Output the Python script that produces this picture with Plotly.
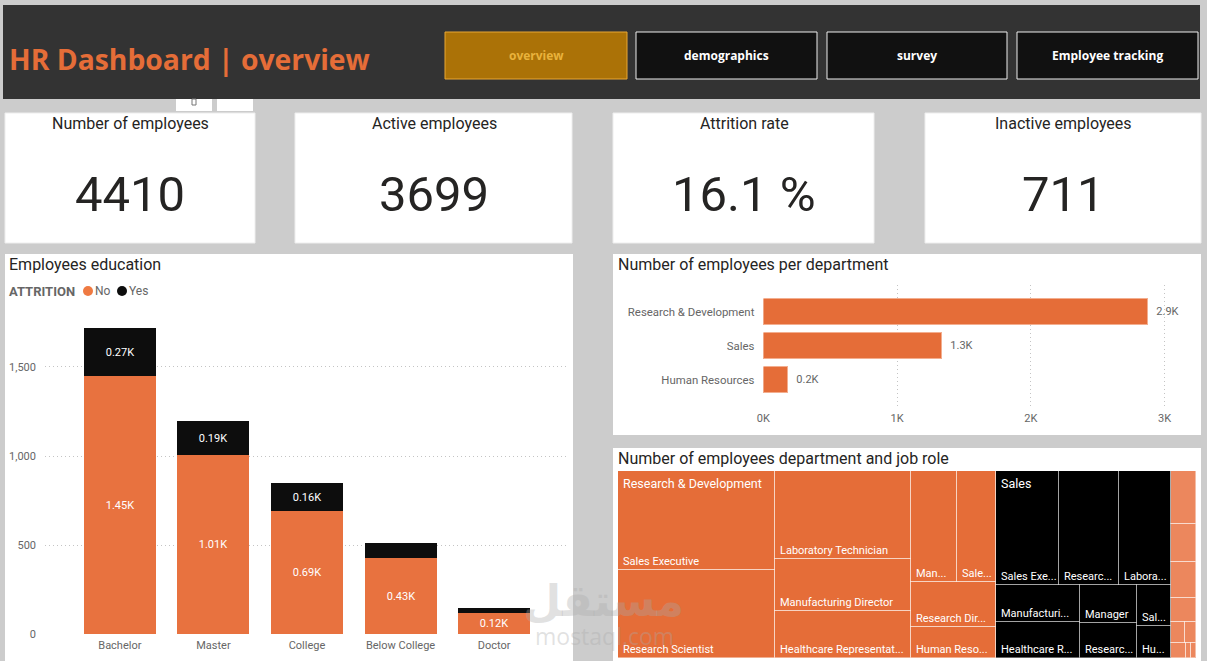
import plotly.graph_objects as go

W, H = 1207, 661
ORANGE = "#E56D38"
ORANGE2 = "#E8723F"
LIGHT = "#EC875D"
BLACK = "#000000"
GREY = "#666666"
DARK = "#252423"
UI_FONT = "Roboto"
HEAD_FONT = "Open Sans"

# --- KPI cards
kpi_titles = ["Number of employees", "Active employees", "Attrition rate", "Inactive employees"]
kpi_values = ["4410", "3699", "16.1 %", "711"]

# --- navigation
nav_labels = ["overview", "demographics", "survey", "Employee tracking"]

# --- education chart
education = ["Bachelor", "Master", "College", "Below College", "Doctor"]
attr_no = [1449, 1008, 690, 426, 120]
attr_yes = [270, 186, 156, 84, 24]
yes_labelled = [True, True, True, False, False]

# --- department chart
departments = ["Research & Development", "Sales", "Human Resources"]
dept_counts = [2883, 1338, 189]

# --- treemap
roles = ["Sales Executive", "Research Scientist", "Laboratory Technician", "Manufacturing Director",
         "Healthcare Representative", "Manager", "Sales Representative", "Research Director", "Human Resources"]

rd_order = [0, 1, 2, 3, 4, 5, 6, 7, 8]
rd_counts = [631, 565, 488, 288, 262, 208, 177, 156, 108]
rd_labels = ["Sales Executive", "Research Scientist", "Laboratory Technician", "Manufacturing Director",
             "Healthcare Representat...", "Man...", "Sale...", "Research Dir...", "Human Reso..."]
rd_tree = [[0, 1], [2, 3, 4], [[5, 6], 7, 8]]

sales_order = [0, 1, 2, 3, 4, 5, 1, 6, 8]
sales_counts = [294, 278, 244, 125, 124, 90, 82, 56, 45]
sales_labels = ["Sales Exe...", "Researc...", "Labora...", "Manufacturi...", "Healthcare R...",
                "Manager", "Researc...", "Sal...", "Hu..."]
sales_tree = [[0, 1, 2], [[3, 4], [5, 6], [7, 8]]]

hr_order = [0, 1, 2, 3, 4, 5, 6, 7, 8]
hr_counts = [54, 38, 36, 25, 12, 9, 9, 3, 3]
hr_labels = [""] * 9
hr_tree = [0, 1, 2, 3, [4, 5], [6, 7, 8]]


def px(x):
    return x / W


def py(y):
    return 1 - y / H


def weight(node, counts):
    if isinstance(node, list):
        return sum(weight(n, counts) for n in node)
    return counts[node]


def slice_cells(node, counts, x0, x1, y0, y1, horizontal, out):
    if not isinstance(node, list):
        out[node] = (x0, x1, y0, y1)
        return
    total = weight(node, counts)
    pos = x0 if horizontal else y0
    for child in node:
        share = weight(child, counts) / total
        if horizontal:
            step = (x1 - x0) * share
            slice_cells(child, counts, pos, pos + step, y0, y1, False, out)
        else:
            step = (y1 - y0) * share
            slice_cells(child, counts, x0, x1, pos, pos + step, True, out)
        pos += step


fig = go.Figure()

# education
fig.add_bar(x=education, y=attr_no, name="No", marker=dict(color=ORANGE2, line=dict(width=0)),
            text=[f"{v/1000:.2f}K" for v in attr_no], textposition="inside", insidetextanchor="middle",
            textangle=0, textfont=dict(color="white", size=11, family=UI_FONT), width=0.77,
            xaxis="x", yaxis="y")
fig.add_bar(x=education, y=attr_yes, name="Yes", marker=dict(color="#0D0D0D", line=dict(width=0)),
            text=[f"{v/1000:.2f}K" if s else "" for v, s in zip(attr_yes, yes_labelled)],
            textposition="inside", insidetextanchor="middle", textangle=0,
            textfont=dict(color="white", size=11, family=UI_FONT), width=0.77, xaxis="x", yaxis="y")

# departments
fig.add_bar(y=departments, x=dept_counts, orientation="h", width=0.77, cliponaxis=False,
            marker=dict(color=ORANGE, line=dict(width=1, color="#F3AE8F")),
            text=[f"\u00a0\u00a0{v/1000:.1f}K" for v in dept_counts], textposition="outside",
            textfont=dict(color=GREY, size=11, family=UI_FONT), xaxis="x2", yaxis="y2")

# treemap
annotations = []
groups = [("Research & Development", rd_counts, rd_labels, rd_order, rd_tree, True, ORANGE, "rgba(255,255,255,0.45)"),
          ("Sales", sales_counts, sales_labels, sales_order, sales_tree, False, BLACK, "rgba(255,255,255,0.4)"),
          ("", hr_counts, hr_labels, hr_order, hr_tree, False, LIGHT, "rgba(255,255,255,0.45)")]
start = 0
for name, counts, labels, order, tree, horiz, colour, edge in groups:
    span = sum(counts)
    cells = {}
    slice_cells(tree, counts, start, start + span, 0, 1, horiz, cells)
    idx = sorted(cells)
    fig.add_bar(x=[(cells[i][0] + cells[i][1]) / 2 for i in idx],
                width=[cells[i][1] - cells[i][0] for i in idx],
                base=[cells[i][2] for i in idx],
                y=[cells[i][3] - cells[i][2] for i in idx],
                customdata=[[roles[order[i]], counts[i]] for i in idx],
                hovertemplate="%{customdata[0]}: %{customdata[1]}<extra></extra>",
                marker=dict(color=colour, line=dict(color=edge, width=1)),
                xaxis="x3", yaxis="y3")
    for i in idx:
        if labels[i]:
            annotations.append(dict(x=cells[i][0], y=cells[i][3], xref="x3", yref="y3", text=labels[i],
                                    xanchor="left", yanchor="bottom", xshift=3, yshift=0, showarrow=False,
                                    font=dict(color="white", size=11, family=UI_FONT)))
    if name:
        annotations.append(dict(x=start, y=0, xref="x3", yref="y3", text=name, xanchor="left", yanchor="top",
                                xshift=3, yshift=-3, showarrow=False,
                                font=dict(color="white", size=12.5, family=UI_FONT)))
    start += span

shapes = []


def rect(x0, y0, x1, y1, fill, line=None, lw=1):
    shapes.append(dict(type="rect", xref="paper", yref="paper", x0=px(x0), x1=px(x1), y0=py(y0), y1=py(y1),
                       fillcolor=fill, line=dict(color=line or fill, width=lw if line else 0), layer="below"))


def label(x, y, text, size, colour, anchor="center", family=UI_FONT):
    annotations.append(dict(x=px(x - 2 if anchor == "left" else x), y=py(y), xref="paper", yref="paper", text=text,
                            showarrow=False, xanchor=anchor, yanchor="middle",
                            font=dict(size=size, color=colour, family=family)))


# header and panels
rect(3, 5, 1200, 99, "#333333")
rect(176, 99, 212, 111, "#FFFFFF")
rect(217, 99, 253, 111, "#FFFFFF")
rect(192, 99, 196, 105, "#FFFFFF", "#777777", 1)

card_boxes = [(5, 255), (295, 572), (613, 874), (925, 1201)]
card_mid = [130, 434, 744, 1063]
for (a, b), mid, t, v in zip(card_boxes, card_mid, kpi_titles, kpi_values):
    rect(a, 113, b, 243, "#FFFFFF", "#EEEEEE", 1)
    label(mid, 123, t, 16, DARK)
    label(mid, 194, v, 49, DARK)

rect(5, 254, 573, 661, "#FFFFFF")
rect(613, 254, 1201, 435, "#FFFFFF")
rect(613, 448, 1201, 661, "#FFFFFF")
label(9, 264, "Employees education", 16, DARK, "left")
label(618, 264, "Number of employees per department", 16, DARK, "left")
label(618, 458, "Number of employees department and job role", 16, DARK, "left")

# title and navigation
label(9, 59, "<b>HR Dashboard | overview</b>", 28.3, "#E56D38", "left", HEAD_FONT)
nav_boxes = [(445, 627), (636, 817), (827, 1007), (1017, 1198)]
for i, ((a, b), t) in enumerate(zip(nav_boxes, nav_labels)):
    if i == 0:
        rect(a, 32, b, 79, "#AB7207", "#E9A735", 1)
        label((a + b) / 2, 56, f"<b>{t}</b>", 12, "#E9B23C", family=HEAD_FONT)
    else:
        rect(a, 32, b, 79, "#111111", "#EEEEEE", 1)
        label((a + b) / 2, 56, f"<b>{t}</b>", 12, "#FFFFFF", family=HEAD_FONT)

# legend
label(9, 291, "<b>ATTRITION</b>", 13, GREY, "left")
for cx, colour, t in [(88, "#EF7A42", "No"), (122, "#0D0D0D", "Yes")]:
    shapes.append(dict(type="circle", xref="paper", yref="paper", x0=px(cx - 5), x1=px(cx + 5),
                       y0=py(296), y1=py(286), fillcolor=colour, line=dict(width=0), layer="above"))
    label(cx + 7, 291, t, 12, GREY, "left")

# watermark
annotations.append(dict(x=px(603), y=py(600), xref="paper", yref="paper", text="<b>مستقل</b>", showarrow=False,
                        yanchor="middle", font=dict(size=44, color="rgba(170,170,170,0.35)", family="DejaVu Sans")))
annotations.append(dict(x=px(604), y=py(636), xref="paper", yref="paper", text="mostaql.com", showarrow=False,
                        yanchor="middle", font=dict(size=23, color="rgba(170,170,170,0.35)", family=HEAD_FONT)))

GRID = "#C4C4C4"
fig.update_layout(
    width=W, height=H, margin=dict(l=0, r=0, t=0, b=0, autoexpand=False), paper_bgcolor="#CCCCCC",
    plot_bgcolor="rgba(0,0,0,0)",
    barmode="stack", bargap=0, showlegend=False, shapes=shapes, annotations=annotations,
    font=dict(family=UI_FONT, color=GREY),
    xaxis=dict(domain=[px(45), px(568)], range=[-0.80, 4.79], anchor="y", showgrid=False, showline=False,
               ticks="", tickfont=dict(size=11, color=GREY), ticklabelstandoff=3, zeroline=False, automargin=False),
    yaxis=dict(domain=[py(634), py(320)], range=[0, 1764], anchor="x", tickvals=[0, 500, 1000, 1500],
               tickformat=",", gridcolor=GRID, griddash="1px,3px", gridwidth=1, zeroline=False, ticks="",
               tickfont=dict(size=11, color=GREY), ticklabelstandoff=8, automargin=False),
    xaxis2=dict(domain=[px(763.4), px(1180)], range=[0, 416.6 / 133.7 * 1000], anchor="y2",
                tickvals=[0, 1000, 2000, 3000],
                ticktext=["0K", "1K", "2K", "3K"], gridcolor=GRID, griddash="1px,3px", zeroline=False,
                ticks="", tickfont=dict(size=11, color=GREY), ticklabelstandoff=2, automargin=False),
    yaxis2=dict(domain=[py(408), py(285)], range=[2.82, -0.79], anchor="x2", showgrid=False, zeroline=False,
                ticks="", tickfont=dict(size=11.4, color=GREY), ticklabelstandoff=8, automargin=False),
    xaxis3=dict(domain=[px(618), px(1196)], range=[0, sum(dept_counts)], anchor="y3", visible=False, automargin=False),
    yaxis3=dict(domain=[py(658), py(471)], range=[1, 0], anchor="x3", visible=False, automargin=False),
)
fig.update_traces(selector=dict(xaxis="x3"), textposition="none")

fig.write_html("out.html", config=dict(displayModeBar=False),
               post_script="document.body.style.margin='0';document.documentElement.style.overflow='hidden';")
